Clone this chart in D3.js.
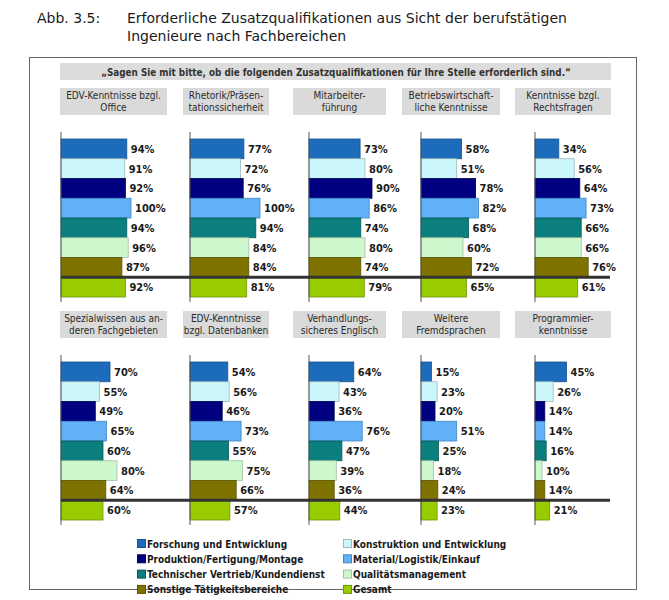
<!DOCTYPE html>
<html>
<head>
<meta charset="utf-8">
<script src="https://cdn.jsdelivr.net/npm/d3@7"></script>
<style>
	body { margin: 0; background: #fff; }
	svg { display: block; }
</style>
</head>
<body>
<div id="chart"></div>
<script>
// Fachbereiche (Reihenfolge der Balken)
const fachbereiche = [
	"Forschung und Entwicklung",
	"Konstruktion und Entwicklung",
	"Produktion/Fertigung/Montage",
	"Material/Logistik/Einkauf",
	"Technischer Vertrieb/Kundendienst",
	"Qualitätsmanagement",
	"Sonstige Tätigkeitsbereiche",
	"Gesamt"
];
const farben = ["#1d6cbb", "#cbf6fa", "#000080", "#62b1f7", "#0b7e7e", "#cdf7cd", "#7f7300", "#99cc00"];
const rahmen = ["#15528f", "#9fb8ba", "#000050", "#3f86c6", "#075a5a", "#a3c0a3", "#5a5200", "#6f9400"];

// Zusatzqualifikationen, obere Reihe
const qualiOben = [
	["EDV-Kenntnisse bzgl.", "Office"],
	["Rhetorik/Präsen-", "tationssicherheit"],
	["Mitarbeiter-", "führung"],
	["Betriebswirtschaft-", "liche Kenntnisse"],
	["Kenntnisse bzgl.", "Rechtsfragen"]
];
const werteOben = [
	[94, 91, 92, 100, 94, 96, 87, 92],
	[77, 72, 76, 100, 94, 84, 84, 81],
	[73, 80, 90, 86, 74, 80, 74, 79],
	[58, 51, 78, 82, 68, 60, 72, 65],
	[34, 56, 64, 73, 66, 66, 76, 61]
];

// untere Reihe
const qualiUnten = [
	["Spezialwissen aus an-", "deren Fachgebieten"],
	["EDV-Kenntnisse", "bzgl. Datenbanken"],
	["Verhandlungs-", "sicheres Englisch"],
	["Weitere", "Fremdsprachen"],
	["Programmier-", "kenntnisse"]
];
const werteUnten = [
	[70, 55, 49, 65, 60, 80, 64, 60],
	[54, 56, 46, 73, 55, 75, 66, 57],
	[64, 43, 36, 76, 47, 39, 36, 44],
	[15, 23, 20, 51, 25, 18, 24, 23],
	[45, 26, 14, 14, 16, 10, 14, 21]
];

const frage = "\u201ESagen Sie mit bitte, ob die folgenden Zusatzqualifikationen für Ihre Stelle erforderlich sind.\u201C";

const W = 669, H = 600;
const svg = d3.select("#chart").append("svg")
	.attr("width", W)
	.attr("height", H);

const fontTitle = "'DejaVu Sans', sans-serif";
const fontText = "'DejaVu Sans Condensed', 'DejaVu Sans', sans-serif";

// Titel
svg.append("text")
	.attr("x", 37).attr("y", 23)
	.style("font-family", fontTitle).style("font-size", "14px").style("fill", "#1a1a1a")
	.text("Abb. 3.5:");
svg.append("text")
	.attr("x", 127).attr("y", 23)
	.style("font-family", fontTitle).style("font-size", "14px").style("fill", "#1a1a1a")
	.text("Erforderliche Zusatzqualifikationen aus Sicht der berufstätigen");
svg.append("text")
	.attr("x", 127).attr("y", 41)
	.style("font-family", fontTitle).style("font-size", "14px").style("fill", "#1a1a1a")
	.text("Ingenieure nach Fachbereichen");

// Rahmen
svg.append("rect")
	.attr("x", 29.5).attr("y", 57.5)
	.attr("width", 607).attr("height", 532)
	.attr("fill", "none")
	.attr("stroke", "#666")
	.attr("stroke-width", 1);

// Frage-Box
svg.append("rect")
	.attr("x", 60).attr("y", 63).attr("width", 551).attr("height", 17)
	.attr("fill", "#dcdcdc");
svg.append("text")
	.attr("x", 336).attr("y", 75.5)
	.attr("text-anchor", "middle")
	.style("font-family", fontText).style("font-size", "9.8px").style("font-weight", "bold")
	.style("fill", "#333")
	.text(frage);

const achsenX = [61, 190, 309, 421, 535];
const boxen = [[60, 167], [183, 269], [293, 386], [402, 500], [515, 611]];

const x = d3.scaleLinear().domain([0, 100]).range([0, 70]);

function zeichneReihe(quali, werte, top) {
	// top = Oberkante der Überschriftboxen
	const y = d3.scaleBand()
		.domain(fachbereiche)
		.range([top + 51, top + 51 + 8 * 19.75])
		.paddingInner(0);

	quali.forEach((q, i) => {
		const b = boxen[i];
		svg.append("rect")
			.attr("x", b[0]).attr("y", top)
			.attr("width", b[1] - b[0]).attr("height", 27)
			.attr("fill", "#dadada");
		q.forEach((zeile, j) => {
			svg.append("text")
				.attr("x", (b[0] + b[1]) / 2)
				.attr("y", top + 11 + j * 12)
				.attr("text-anchor", "middle")
				.style("font-family", fontText).style("font-size", "10px")
				.style("fill", "#2a2a2a")
				.text(zeile);
		});

		const g = svg.append("g")
			.attr("transform", `translate(${achsenX[i]},0)`);

		g.selectAll("rect.bar")
			.data(werte[i].map((v, k) => ({ k: fachbereiche[k], v: v, idx: k })))
			.join("rect")
			.attr("class", "bar")
			.attr("x", 0)
			.attr("y", d => y(d.k))
			.attr("width", d => x(d.v))
			.attr("height", y.bandwidth())
			.attr("fill", d => farben[d.idx])
			.attr("stroke", d => rahmen[d.idx])
			.attr("stroke-width", 0.8);

		g.selectAll("text.lab")
			.data(werte[i].map((v, k) => ({ k: fachbereiche[k], v: v })))
			.join("text")
			.attr("class", "lab")
			.attr("x", d => x(d.v) + 4)
			.attr("y", d => y(d.k) + y.bandwidth() / 2 + 4)
			.style("font-family", fontText).style("font-size", "11px").style("font-weight", "bold")
			.style("fill", "#1a1a1a")
			.text(d => d.v + "%");

		// Achse
		g.append("line")
			.attr("x1", 0).attr("x2", 0)
			.attr("y1", top + 44).attr("y2", top + 214)
			.attr("stroke", "#555").attr("stroke-width", 1);
	});

	// Trennlinie vor "Gesamt"
	const ly = y("Gesamt");
	svg.append("line")
		.attr("x1", achsenX[0]).attr("x2", 610)
		.attr("y1", ly).attr("y2", ly)
		.attr("stroke", "#333").attr("stroke-width", 3);
}

zeichneReihe(qualiOben, werteOben, 88);
zeichneReihe(qualiUnten, werteUnten, 311);

// Legende
const legX = [137, 343];
const legY = 539, legStep = 15.3;
fachbereiche.forEach((f, i) => {
	const lx = legX[i % 2];
	const ly = legY + Math.floor(i / 2) * legStep;
	svg.append("rect")
		.attr("x", lx + 0.5).attr("y", ly + 0.5)
		.attr("width", 8).attr("height", 8)
		.attr("fill", farben[i])
		.attr("stroke", rahmen[i]).attr("stroke-width", 1);
	svg.append("text")
		.attr("x", lx + 10).attr("y", ly + 8.5)
		.style("font-family", fontText).style("font-size", "10px").style("font-weight", "bold")
		.style("fill", "#1a1a1a")
		.text(f);
});
</script>
</body>
</html>
